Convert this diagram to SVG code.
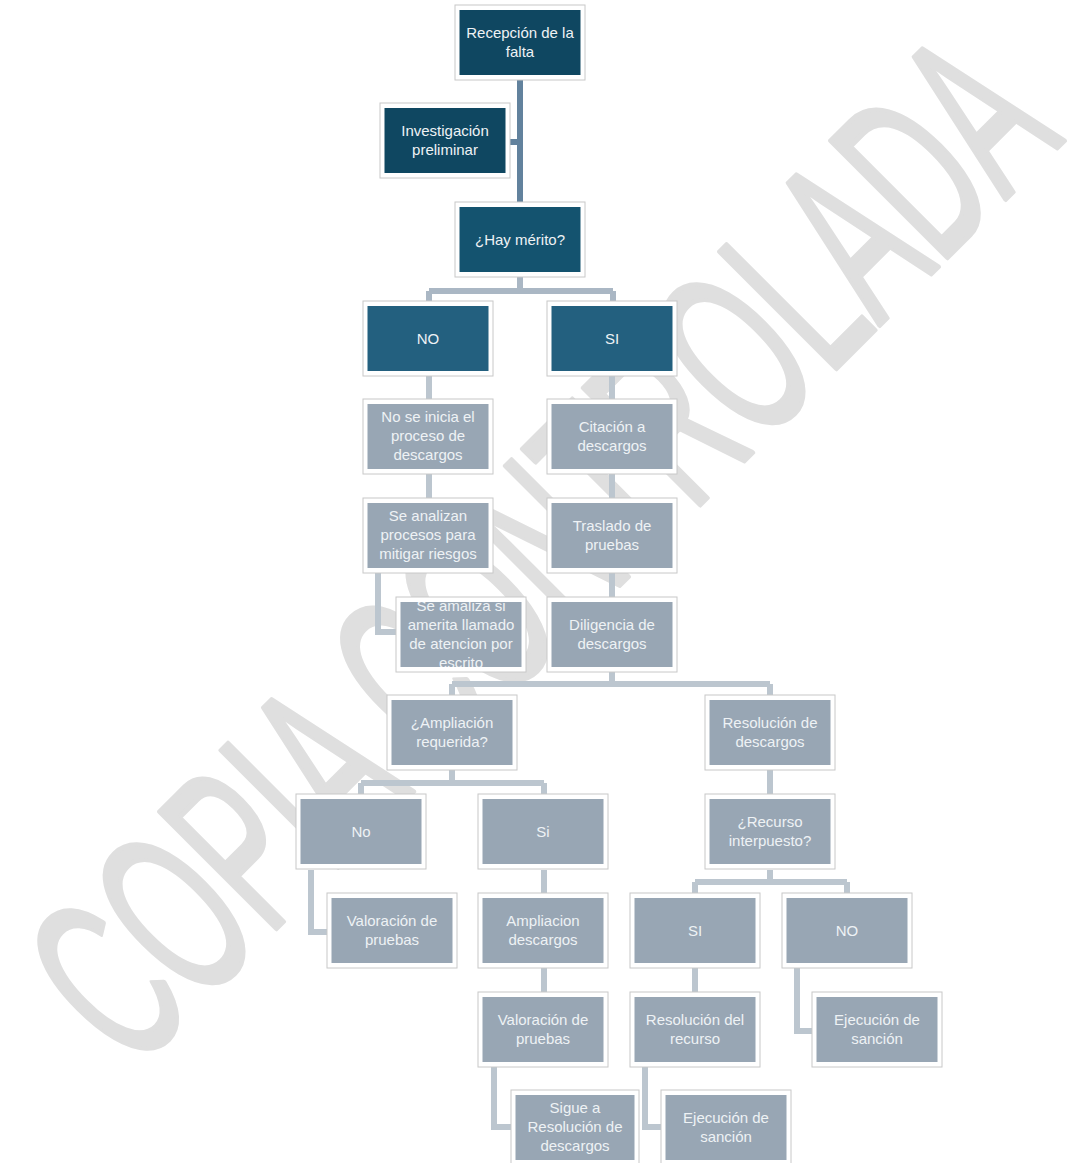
<svg xmlns="http://www.w3.org/2000/svg" width="1081" height="1163" viewBox="0 0 1081 1163">
<defs>
<style>
.frame{fill:#ffffff;stroke:#c8c8c8;stroke-width:1}
.dk{fill:#0f4761}
.md{fill:#14536f}
.bl{fill:#23607f}
.gr{fill:#98a6b4}
.t{font-family:"Liberation Sans",Arial,sans-serif;font-size:15px;fill:#eef2f5;text-anchor:middle}
.c1{stroke:#62829d;stroke-width:6;fill:none}
.c2{stroke:#aab7c4;stroke-width:6;fill:none}
.c3{stroke:#bcc6cf;stroke-width:6;fill:none}
.wm{font-family:"Liberation Sans",Arial,sans-serif;font-size:240px;fill:#dfdfdf;stroke:#dfdfdf;stroke-width:5;stroke-linejoin:round}
</style>
<clipPath id="clip10"><rect x="400.5" y="602" width="121" height="65"/></clipPath>
</defs>
<rect width="1081" height="1163" fill="#ffffff"/>
<text class="wm" x="0" y="0" transform="translate(132,1073) rotate(-45)" textLength="1320" lengthAdjust="spacingAndGlyphs">COPIA CONTROLADA</text>
<g id="connectors">
<path class="c1" d="M520 80V202M509 142H520"/>
<path class="c2" d="M520 277V291M429 291H613M429 291V301M613 291V301"/>
<path class="c3" d="M429 375V399M429 474V498M378 573V632H396"/>
<path class="c3" d="M612 375V399M612 474V498M612 573V597"/>
<path class="c3" d="M612 672V684M452 684H770M452 684V695M770 684V695"/>
<path class="c3" d="M452 770V783M361 783H544M361 783V794M544 783V794"/>
<path class="c3" d="M770 770V794M770 870V882M695 882H847M695 882V893M847 882V893"/>
<path class="c3" d="M311 870V932H327"/>
<path class="c3" d="M544 870V893M544 968V992"/>
<path class="c3" d="M695 968V992"/>
<path class="c3" d="M797 968V1031H812"/>
<path class="c3" d="M494 1067V1127H511"/>
<path class="c3" d="M645 1067V1127H661"/>
</g>
<g id="n1"><rect class="frame" x="455" y="5" width="130" height="75"/><rect class="dk" x="459.5" y="10" width="121" height="65"/><text class="t" x="520" y="38">Recepción de la</text><text class="t" x="520" y="57">falta</text></g>
<g id="n2"><rect class="frame" x="380" y="103" width="130" height="75"/><rect class="dk" x="384.5" y="108" width="121" height="65"/><text class="t" x="445" y="136">Investigación</text><text class="t" x="445" y="155">preliminar</text></g>
<g id="n3"><rect class="frame" x="455" y="202" width="130" height="75"/><rect class="md" x="459.5" y="207" width="121" height="65"/><text class="t" x="520" y="245">¿Hay mérito?</text></g>
<g id="n4"><rect class="frame" x="363" y="301" width="130" height="75"/><rect class="bl" x="367.5" y="306" width="121" height="65"/><text class="t" x="428" y="344">NO</text></g>
<g id="n5"><rect class="frame" x="547" y="301" width="130" height="75"/><rect class="bl" x="551.5" y="306" width="121" height="65"/><text class="t" x="612" y="344">SI</text></g>
<g id="n6"><rect class="frame" x="363" y="399" width="130" height="75"/><rect class="gr" x="367.5" y="404" width="121" height="65"/><text class="t" x="428" y="422">No se inicia el</text><text class="t" x="428" y="441">proceso de</text><text class="t" x="428" y="460">descargos</text></g>
<g id="n7"><rect class="frame" x="547" y="399" width="130" height="75"/><rect class="gr" x="551.5" y="404" width="121" height="65"/><text class="t" x="612" y="432">Citación a</text><text class="t" x="612" y="451">descargos</text></g>
<g id="n8"><rect class="frame" x="363" y="498" width="130" height="75"/><rect class="gr" x="367.5" y="503" width="121" height="65"/><text class="t" x="428" y="521">Se analizan</text><text class="t" x="428" y="540">procesos para</text><text class="t" x="428" y="559">mitigar riesgos</text></g>
<g id="n9"><rect class="frame" x="547" y="498" width="130" height="75"/><rect class="gr" x="551.5" y="503" width="121" height="65"/><text class="t" x="612" y="531">Traslado de</text><text class="t" x="612" y="550">pruebas</text></g>
<g id="n10"><rect class="frame" x="396" y="597" width="130" height="75"/><rect class="gr" x="400.5" y="602" width="121" height="65"/><g clip-path="url(#clip10)"><text class="t" x="461" y="611">Se amaliza si</text><text class="t" x="461" y="630">amerita llamado</text><text class="t" x="461" y="649">de atencion por</text><text class="t" x="461" y="668">escrito</text></g></g>
<g id="n11"><rect class="frame" x="547" y="597" width="130" height="75"/><rect class="gr" x="551.5" y="602" width="121" height="65"/><text class="t" x="612" y="630">Diligencia de</text><text class="t" x="612" y="649">descargos</text></g>
<g id="n12"><rect class="frame" x="387" y="695" width="130" height="75"/><rect class="gr" x="391.5" y="700" width="121" height="65"/><text class="t" x="452" y="728">¿Ampliación</text><text class="t" x="452" y="747">requerida?</text></g>
<g id="n13"><rect class="frame" x="705" y="695" width="130" height="75"/><rect class="gr" x="709.5" y="700" width="121" height="65"/><text class="t" x="770" y="728">Resolución de</text><text class="t" x="770" y="747">descargos</text></g>
<g id="n14"><rect class="frame" x="296" y="794" width="130" height="75"/><rect class="gr" x="300.5" y="799" width="121" height="65"/><text class="t" x="361" y="837">No</text></g>
<g id="n15"><rect class="frame" x="478" y="794" width="130" height="75"/><rect class="gr" x="482.5" y="799" width="121" height="65"/><text class="t" x="543" y="837">Si</text></g>
<g id="n16"><rect class="frame" x="705" y="794" width="130" height="75"/><rect class="gr" x="709.5" y="799" width="121" height="65"/><text class="t" x="770" y="827">¿Recurso</text><text class="t" x="770" y="846">interpuesto?</text></g>
<g id="n17"><rect class="frame" x="327" y="893" width="130" height="75"/><rect class="gr" x="331.5" y="898" width="121" height="65"/><text class="t" x="392" y="926">Valoración de</text><text class="t" x="392" y="945">pruebas</text></g>
<g id="n18"><rect class="frame" x="478" y="893" width="130" height="75"/><rect class="gr" x="482.5" y="898" width="121" height="65"/><text class="t" x="543" y="926">Ampliacion</text><text class="t" x="543" y="945">descargos</text></g>
<g id="n19"><rect class="frame" x="630" y="893" width="130" height="75"/><rect class="gr" x="634.5" y="898" width="121" height="65"/><text class="t" x="695" y="936">SI</text></g>
<g id="n20"><rect class="frame" x="782" y="893" width="130" height="75"/><rect class="gr" x="786.5" y="898" width="121" height="65"/><text class="t" x="847" y="936">NO</text></g>
<g id="n21"><rect class="frame" x="478" y="992" width="130" height="75"/><rect class="gr" x="482.5" y="997" width="121" height="65"/><text class="t" x="543" y="1025">Valoración de</text><text class="t" x="543" y="1044">pruebas</text></g>
<g id="n22"><rect class="frame" x="630" y="992" width="130" height="75"/><rect class="gr" x="634.5" y="997" width="121" height="65"/><text class="t" x="695" y="1025">Resolución del</text><text class="t" x="695" y="1044">recurso</text></g>
<g id="n23"><rect class="frame" x="812" y="992" width="130" height="75"/><rect class="gr" x="816.5" y="997" width="121" height="65"/><text class="t" x="877" y="1025">Ejecución de</text><text class="t" x="877" y="1044">sanción</text></g>
<g id="n24"><rect class="frame" x="511" y="1090" width="128" height="75"/><rect class="gr" x="515.5" y="1095" width="119" height="65"/><text class="t" x="575" y="1113">Sigue a</text><text class="t" x="575" y="1132">Resolución de</text><text class="t" x="575" y="1151">descargos</text></g>
<g id="n25"><rect class="frame" x="661" y="1090" width="130" height="75"/><rect class="gr" x="665.5" y="1095" width="121" height="65"/><text class="t" x="726" y="1123">Ejecución de</text><text class="t" x="726" y="1142">sanción</text></g>
</svg>
